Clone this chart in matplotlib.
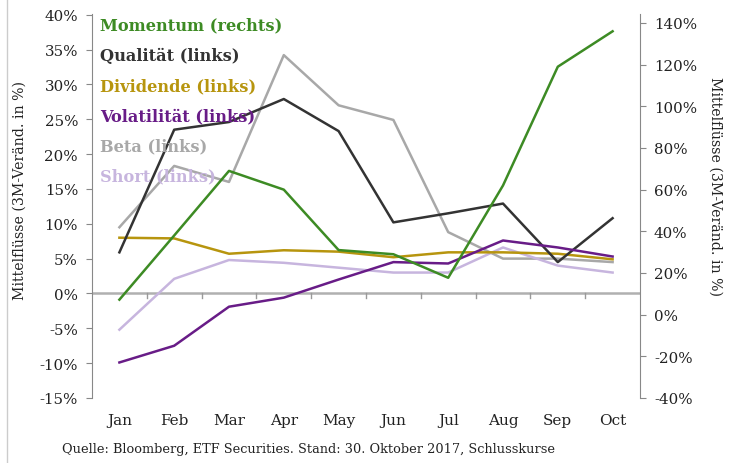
import numpy as np
import matplotlib
matplotlib.use("Agg")
import matplotlib.pyplot as plt
from matplotlib.ticker import FuncFormatter
from matplotlib.lines import Line2D

plt.rcParams['font.family'] = ['DejaVu Serif']

months = ['Jan', 'Feb', 'Mar', 'Apr', 'May', 'Jun', 'Jul', 'Aug', 'Sep', 'Oct']

# right axis
momentum = [7.2, 38, 69, 60, 31, 29, 17.7, 62, 119, 136]
# left axis
qualitaet = [5.9, 23.5, 24.6, 27.9, 23.3, 10.2, 11.5, 12.9, 4.5, 10.8]
dividende = [8.0, 7.9, 5.7, 6.2, 6.0, 5.2, 5.9, 5.9, 5.7, 4.9]
volatilitaet = [-9.9, -7.5, -1.9, -0.6, 2.0, 4.5, 4.3, 7.6, 6.6, 5.3]
beta = [9.5, 18.3, 16.0, 34.2, 27.0, 24.9, 8.8, 5.0, 5.0, 4.5]
short = [-5.2, 2.1, 4.8, 4.4, 3.7, 3.0, 3.0, 6.6, 4.0, 3.0]

left_ticks = [-15, -10, -5, 0, 5, 10, 15, 20, 25, 30, 35, 40]
right_ticks = [-40, -20, 0, 20, 40, 60, 80, 100, 120, 140]

c_mom = '#3d8b24'
c_qual = '#333333'
c_div = '#b7950e'
c_vol = '#681c87'
c_beta = '#a8a8a8'
c_short = '#c7b5de'

fig = plt.figure(figsize=(7.31, 4.64), dpi=100)
ax = fig.add_axes([92/731, 1-399/464, (640-92)/731, (399-15)/464])
ax2 = ax.twinx()

x = np.arange(len(months))
lw = 1.8
ax.plot(x, beta, color=c_beta, lw=lw)
ax.plot(x, short, color=c_short, lw=lw)
ax.plot(x, dividende, color=c_div, lw=lw)
ax.plot(x, qualitaet, color=c_qual, lw=lw)
ax.plot(x, volatilitaet, color=c_vol, lw=lw)
ax2.plot(x, momentum, color=c_mom, lw=lw)

ax.set_xlim(-0.5, len(months) - 0.5)
ax.set_ylim(-15, 40.1)
ax2.set_ylim(-40, 144.3)

# zero line of the left axis with category ticks
ax.axhline(0, color='#b0b0b0', lw=1.8, zorder=0.5)
for b in np.arange(0.5, len(months) - 1, 1.0):
    ax.plot([b, b], [0, -0.6], color='#999999', lw=1, clip_on=False, zorder=0.5)

for s in ['top', 'bottom']:
    ax.spines[s].set_visible(False)
    ax2.spines[s].set_visible(False)
ax.spines['right'].set_visible(False)
ax2.spines['left'].set_visible(False)
ax.spines['left'].set_color('#888888')
ax2.spines['right'].set_color('#888888')

pct = FuncFormatter(lambda v, p: '%d%%' % v)
ax.set_yticks(left_ticks)
ax.yaxis.set_major_formatter(pct)
ax2.set_yticks(right_ticks)
ax2.yaxis.set_major_formatter(pct)
ax.tick_params(axis='y', length=4, color='#888888', labelsize=10.8, labelcolor='#222222', pad=6)
ax2.tick_params(axis='y', length=4, color='#888888', labelsize=10.8, labelcolor='#222222', pad=6)
ax.set_xticks(x)
ax.set_xticklabels(months)
ax.tick_params(axis='x', length=0, labelsize=11, labelcolor='#222222', pad=11)

fig.text(20/731, 1-191/464, 'Mittelflüsse (3M-Veränd. in %)', rotation=90,
         ha='center', va='center', fontsize=10.2, color='#222222')
fig.text(715/731, 1-187/464, 'Mittelflüsse (3M-Veränd. in %)', rotation=270,
         ha='center', va='center', fontsize=10.2, color='#222222')

labels = ['Momentum (rechts)', 'Qualität (links)', 'Dividende (links)',
          'Volatilität (links)', 'Beta (links)', 'Short (links)']
colors = [c_mom, c_qual, c_div, c_vol, c_beta, c_short]
for i, (lab, col) in enumerate(zip(labels, colors)):
    fig.text(100/731, 1-(26 + i*30.2)/464, lab, ha='left', va='center',
             fontsize=11.7, fontweight='bold', color=col)

fig.text(62/731, 1-450/464,
         'Quelle: Bloomberg, ETF Securities. Stand: 30. Oktober 2017, Schlusskurse',
         ha='left', va='center', fontsize=9.25, color='#222222')

fig.add_artist(Line2D([7/731, 7/731], [0, 1], color='#cccccc', lw=1))

fig.savefig('out.png', dpi=100)
